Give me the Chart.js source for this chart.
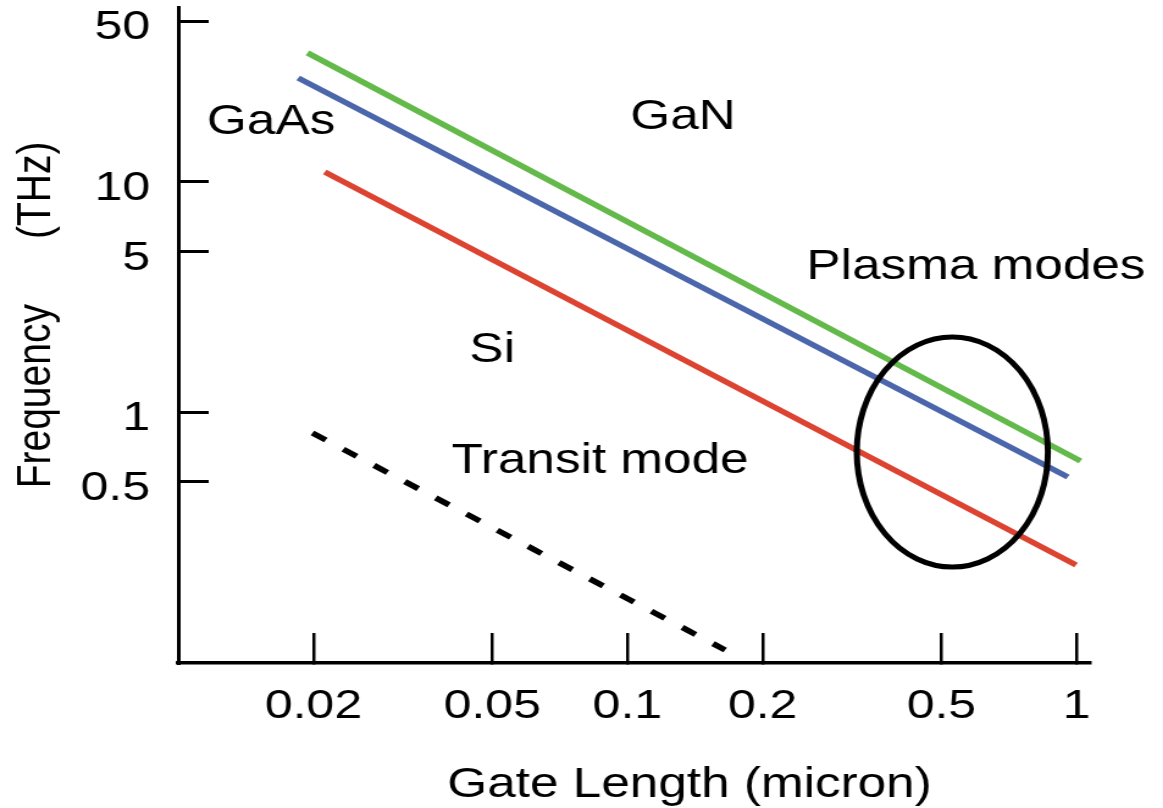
<!DOCTYPE html>
<html>
<head>
<meta charset="utf-8">
<title>Frequency vs gate length</title>
<script src="https://cdn.jsdelivr.net/npm/chart.js@4.4.1/dist/chart.umd.min.js"></script>
<style>
  html, body { margin: 0; padding: 0; background: #fff; overflow: hidden; }
  /* the original figure is stretched sideways, so the chart is too */
  #wrap { width: 953px; height: 808px; transform: scaleX(1.2204); transform-origin: 0 0; }
</style>
</head>
<body>
<div id="wrap"><canvas id="grafica" width="953" height="808"></canvas></div>
<script>
const fuente = "'Liberation Sans', Arial, Helvetica, sans-serif";

// ticks
const xTicks = [0.02, 0.05, 0.1, 0.2, 0.5, 1];
const yTicks = [0.5, 1, 5, 10, 50];

// lines (end points, gate length in micron / frequency in THz)
const ganX = [0.0194, 1.02];
const ganY = [36.4, 0.613];
const gaasX = [0.0185, 0.956];
const gaasY = [28.3, 0.522];
const siX = [0.0212, 0.997];
const siY = [11.05, 0.2165];
const transitX = [0.0199, 0.165];
const transitY = [0.811, 0.0925];

// ellipse round the plasma modes (left/right, bottom/top)
const elipseX = [0.324, 0.863];
const elipseY = [0.212, 2.12];

// text notes
const notaTexto = ["GaAs", "GaN", "Plasma modes", "Si", "Transit mode"];
const notaX = [0.0161, 0.133, 0.597, 0.050, 0.0869];
const notaY = [18.2, 19.0, 4.27, 1.86, 0.613];

function puntos(xs, ys) {
  return xs.map((x, i) => ({ x: x, y: ys[i] }));
}

const notas = {
  id: "notas",
  afterDatasetsDraw(chart) {
    const { ctx, scales } = chart;
    const sx = scales.x;
    const sy = scales.y;
    ctx.save();
    const left = sx.getPixelForValue(elipseX[0]);
    const right = sx.getPixelForValue(elipseX[1]);
    const bottom = sy.getPixelForValue(elipseY[0]);
    const top = sy.getPixelForValue(elipseY[1]);
    ctx.beginPath();
    ctx.ellipse((left + right) / 2, (top + bottom) / 2, (right - left) / 2, (bottom - top) / 2, 0, 0, 2 * Math.PI);
    ctx.lineWidth = 5;
    ctx.strokeStyle = "#000";
    ctx.stroke();

    ctx.fillStyle = "#000";
    ctx.textAlign = "center";
    ctx.textBaseline = "middle";
    ctx.font = `42px ${fuente}`;
    notaTexto.forEach((t, i) => {
      ctx.fillText(t, sx.getPixelForValue(notaX[i]), sy.getPixelForValue(notaY[i]));
    });

    // axis titles
    ctx.fillText("Gate Length (micron)", 565, 785);
    ctx.translate(30, 315);
    ctx.rotate(-Math.PI / 2);
    ctx.font = `39px ${fuente}`;
    ctx.fillText("Frequency      (THz)", 0, 0);
    ctx.restore();
  }
};

const ctx = document.getElementById("grafica").getContext("2d");
new Chart(ctx, {
  type: "line",
  data: {
    datasets: [
      { label: "GaN", data: puntos(ganX, ganY), borderColor: "#63ba4b", borderWidth: 5.5 },
      { label: "GaAs", data: puntos(gaasX, gaasY), borderColor: "#4b66ab", borderWidth: 5.5 },
      { label: "Si", data: puntos(siX, siY), borderColor: "#dc4330", borderWidth: 5.5 },
      { label: "Transit mode", data: puntos(transitX, transitY), borderColor: "#000", borderWidth: 5.5, borderDash: [13, 17] }
    ]
  },
  options: {
    responsive: false,
    animation: false,
    events: [],
    elements: { point: { radius: 0 }, line: { tension: 0, borderCapStyle: "butt" } },
    layout: { padding: { top: 7, right: 60, left: 0, bottom: 0 } },
    plugins: { legend: { display: false }, tooltip: { enabled: false } },
    scales: {
      x: {
        type: "logarithmic",
        min: 0.01,
        max: 1.07,
        afterBuildTicks: s => { s.ticks = xTicks.map(v => ({ value: v })); },
        afterFit: s => { s.height = 145; s.paddingLeft = 0; s.paddingRight = 0; },
        border: { display: true, color: "#000", width: 3.5 },
        grid: { drawOnChartArea: false, color: "#000", lineWidth: 2.5, tickLength: -30 },
        ticks: {
          color: "#000",
          font: { family: fuente, size: 41 },
          padding: 49,
          maxRotation: 0,
          autoSkip: false,
          callback: v => String(v)
        }
      },
      y: {
        type: "logarithmic",
        min: 0.0812,
        max: 57.6,
        afterBuildTicks: s => { s.ticks = yTicks.map(v => ({ value: v })); },
        afterFit: s => { s.width = 146; s.paddingTop = 0; s.paddingBottom = 0; },
        border: { display: true, color: "#000", width: 3 },
        grid: { drawOnChartArea: false, color: "#000", lineWidth: 3, tickLength: -25 },
        ticks: {
          color: "#000",
          font: { family: fuente, size: 41 },
          padding: 48,
          labelOffset: 7,
          autoSkip: false,
          callback: v => String(v)
        }
      }
    }
  },
  plugins: [notas]
});
</script>
</body>
</html>
